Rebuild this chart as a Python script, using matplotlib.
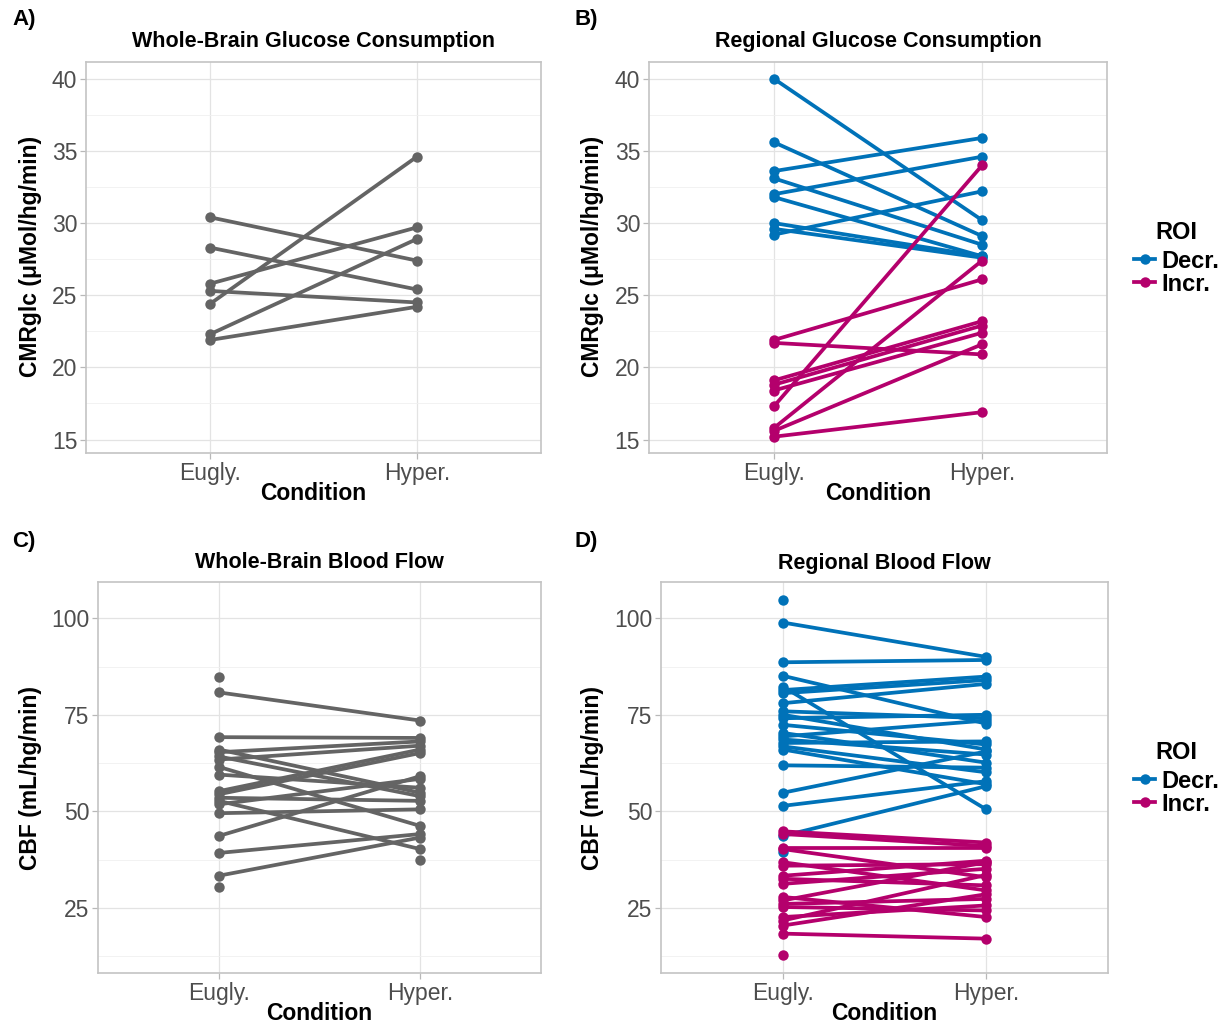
import numpy as np
import matplotlib
matplotlib.use('Agg')
import matplotlib.pyplot as plt
from matplotlib.lines import Line2D
from matplotlib.ticker import MultipleLocator

plt.rcParams['font.family'] = ['Liberation Sans', 'DejaVu Sans']

conditions = ['Eugly.', 'Hyper.']
roi_labels = ['Decr.', 'Incr.']

# Panel A: whole-brain glucose consumption (paired subjects)
wb_glc_eugly = [30.4, 28.3, 25.8, 25.3, 24.4, 22.3, 21.9]
wb_glc_hyper = [27.4, 25.4, 29.7, 24.5, 34.6, 28.9, 24.2]

# Panel B: regional glucose consumption
rg_glc_decr_eugly = [40.0, 35.6, 33.6, 33.1, 32.0, 31.8, 30.0, 29.6, 29.2]
rg_glc_decr_hyper = [30.2, 29.1, 35.9, 28.5, 34.6, 27.7, 27.7, 27.6, 32.2]
rg_glc_incr_eugly = [21.9, 21.7, 19.1, 18.8, 18.4, 17.3, 15.8, 15.6, 15.2]
rg_glc_incr_hyper = [26.1, 20.9, 23.2, 22.9, 22.4, 34.0, 27.4, 21.6, 16.9]

# Panel C: whole-brain blood flow
wb_cbf_eugly = [84.7, 80.8, 69.2, 66.0, 65.3, 64.2, 63.4, 61.5, 59.5, 55.2, 54.4,
                53.5, 52.7, 51.8, 49.5, 43.6, 39.2, 33.3, 30.3, np.nan]
wb_cbf_hyper = [np.nan, 73.5, 69.0, 54.8, 68.1, 53.9, 67.0, 46.2, 56.1, 66.0, 65.1,
                52.7, 40.2, 58.4, 50.5, 59.1, 44.1, 43.2, np.nan, 37.4]

# Panel D: regional blood flow
rg_cbf_decr_eugly = [104.8, 98.9, 88.6, 85.1, 82.3, 81.4, 80.6, 78.0, 75.9, 75.0, 74.1,
                     72.4, 70.3, 69.4, 68.6, 67.7, 66.8, 66.0, 61.9, 54.8, 51.4, 43.6, 39.4]
rg_cbf_decr_hyper = [np.nan, 90.0, 89.2, 72.7, 50.5, 84.9, 84.0, 83.0, 74.1, 66.0, 75.0,
                     67.3, 62.6, 73.5, 64.7, 68.1, 60.1, 57.0, 61.3, 65.5, 57.8, 56.5, np.nan]
rg_cbf_incr_eugly = [44.8, 44.1, 40.6, 40.2, 36.8, 35.9, 33.3, 32.5, 31.2, 27.8, 26.9,
                     26.0, 25.2, 22.6, 21.7, 20.4, 18.3, 12.7]
rg_cbf_incr_hyper = [41.9, 41.0, 40.6, 32.9, 29.5, 36.3, 37.2, 30.8, 35.1, 22.6, 36.8,
                     27.3, 24.3, 25.6, 33.5, 28.5, 17.0, np.nan]

GREY = '#646464'
BLUE = '#0072B8'
MAG = '#B4006C'
LW = 2.7
MS = 7.5

W, H = 1223, 1026
fig = plt.figure(figsize=(W / 100, H / 100), dpi=100)


def add_ax(l, r, t, b):
    return fig.add_axes([l / W, 1 - b / H, (r - l) / W, (b - t) / H])


def style(ax, ylim, major, minor):
    ax.set_xlim(0.4, 2.6)
    ax.set_ylim(*ylim)
    ax.set_xticks([1, 2])
    ax.set_xticklabels(conditions)
    ax.yaxis.set_major_locator(MultipleLocator(major))
    ax.yaxis.set_minor_locator(MultipleLocator(minor))
    ax.grid(which='major', color='#E3E3E3', lw=0.9)
    ax.grid(which='minor', axis='y', color='#F0F0F0', lw=0.6)
    for sp in ax.spines.values():
        sp.set_color('#C4C4C4')
        sp.set_linewidth(1.2)
    ax.tick_params(which='major', length=4, width=0.9, color='#B8B8B8',
                   labelsize=16.5, labelcolor='#4D4D4D', pad=2.3)
    ax.tick_params(which='minor', length=0)
    ax.set_axisbelow(True)


def draw_pairs(ax, eugly, hyper, color):
    for e, h in zip(eugly, hyper):
        ax.plot([1, 2], [e, h], color=color, lw=LW, solid_capstyle='round', zorder=2)
    for e, h in zip(eugly, hyper):
        ax.plot([1, 2], [e, h], color=color, lw=0, marker='o', ms=MS,
                markeredgewidth=0, zorder=3)


# Panel geometry (pixels)
axA = add_ax(86, 541, 62, 453)
axB = add_ax(649, 1107, 62, 453)
axC = add_ax(98, 541, 582, 973)
axD = add_ax(661, 1108, 582, 973)

glc_lim = (14.07, 41.16)
cbf_lim = (8.1, 109.4)
for ax in (axA, axB):
    style(ax, glc_lim, 5, 2.5)
for ax in (axC, axD):
    style(ax, cbf_lim, 25, 12.5)

draw_pairs(axA, wb_glc_eugly, wb_glc_hyper, GREY)
draw_pairs(axB, rg_glc_decr_eugly, rg_glc_decr_hyper, BLUE)
draw_pairs(axB, rg_glc_incr_eugly, rg_glc_incr_hyper, MAG)
draw_pairs(axC, wb_cbf_eugly, wb_cbf_hyper, GREY)
draw_pairs(axD, rg_cbf_decr_eugly, rg_cbf_decr_hyper, BLUE)
draw_pairs(axD, rg_cbf_incr_eugly, rg_cbf_incr_hyper, MAG)


def ftext(x, y, s, **kw):
    fig.text(x / W, 1 - y / H, s, **kw)


bold16 = dict(fontsize=16.5, fontweight='bold', color='black', ha='center', va='center')
title_kw = dict(fontsize=15.5, fontweight='bold', color='black', ha='center', va='center')

# panel letters
for lbl, x, y in [('A)', 12, 19), ('B)', 575, 19), ('C)', 12, 541), ('D)', 575, 541)]:
    ftext(x, y, lbl, fontsize=16, fontweight='bold', ha='left', va='center')

# titles
ftext(313.5, 41, 'Whole-Brain Glucose Consumption', **title_kw)
ftext(878, 41, 'Regional Glucose Consumption', **title_kw)
ftext(319.5, 563, 'Whole-Brain Blood Flow', **title_kw)
ftext(884.5, 563, 'Regional Blood Flow', **title_kw)

# x labels
ftext(313.5, 494, 'Condition', **bold16)
ftext(878, 494, 'Condition', **bold16)
ftext(319.5, 1014, 'Condition', **bold16)
ftext(884.5, 1014, 'Condition', **bold16)

# y labels
ftext(30, 256, 'CMRglc (μMol/hg/min)', rotation=90, **bold16)
ftext(592, 256, 'CMRglc (μMol/hg/min)', rotation=90, **bold16)
ftext(30, 778, 'CBF (mL/hg/min)', rotation=90, **bold16)
ftext(592, 778, 'CBF (mL/hg/min)', rotation=90, **bold16)

# legends
handles = [Line2D([0], [0], color=BLUE, lw=LW, marker='o', ms=MS, markeredgewidth=0),
           Line2D([0], [0], color=MAG, lw=LW, marker='o', ms=MS, markeredgewidth=0)]
for top in (221, 741):
    leg = fig.legend(handles, roi_labels, title='ROI', loc='upper left',
                     bbox_to_anchor=(1134 / W, 1 - top / H), frameon=False,
                     prop=dict(size=17, weight='bold'),
                     title_fontproperties=dict(size=17, weight='bold'),
                     handlelength=0.9, handletextpad=0.25, labelspacing=0.0,
                     borderaxespad=0, borderpad=0, alignment='center')
    leg._legend_box.sep = 4

fig.savefig('out.png', dpi=100, facecolor='white')
